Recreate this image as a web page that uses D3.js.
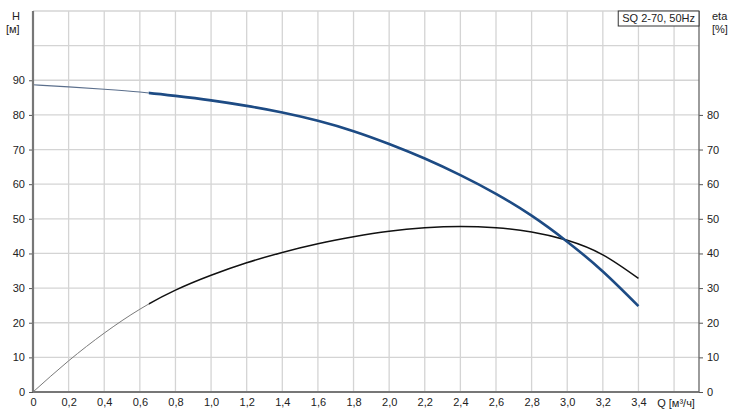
<!DOCTYPE html>
<html>
<head>
<meta charset="utf-8">
<script src="https://cdn.jsdelivr.net/npm/d3@7"></script>
<style>
  body { margin: 0; background: #fff; }
  text { font-family: "Liberation Sans", Arial, sans-serif; font-size: 11px; fill: #222; }
</style>
</head>
<body>
<div id="chart"></div>
<script>
// flow Q [m3/h]
var flow = [0, 0.2, 0.4, 0.6, 0.8, 1.0, 1.2, 1.4, 1.6, 1.8, 2.0, 2.2, 2.4, 2.6, 2.8, 3.0, 3.2, 3.4];
// head H [m]
var head = [88.7, 88.1, 87.4, 86.6, 85.5, 84.2, 82.6, 80.7, 78.3, 75.3, 71.6, 67.4, 62.6, 57.2, 50.9, 43.4, 34.8, 24.8];
// efficiency eta [%]
var eta = [0, 9.0, 17.0, 23.9, 29.4, 33.7, 37.3, 40.3, 42.8, 44.8, 46.4, 47.4, 47.8, 47.4, 46.2, 43.8, 39.6, 32.8];

var xTicks = [0, 0.2, 0.4, 0.6, 0.8, 1.0, 1.2, 1.4, 1.6, 1.8, 2.0, 2.2, 2.4, 2.6, 2.8, 3.0, 3.2, 3.4];
var xGrid = [0.2, 0.4, 0.6, 0.8, 1.0, 1.2, 1.4, 1.6, 1.8, 2.0, 2.2, 2.4, 2.6, 2.8, 3.0, 3.2, 3.4, 3.6];
var hTicks = [0, 10, 20, 30, 40, 50, 60, 70, 80, 90];
var etaTicks = [0, 10, 20, 30, 40, 50, 60, 70, 80];
var yGrid = [10, 20, 30, 40, 50, 60, 70, 80, 90, 100, 110];
var opStart = 0.65; // start of the bold (duty) range
var title = "SQ 2-70, 50Hz";

var W = 733, H = 410;
var margin = {top: 11, right: 34, bottom: 18, left: 33},
    width = W - margin.left - margin.right,
    height = H - margin.top - margin.bottom;

var x = d3.scaleLinear().domain([0, 3.74]).range([0, width]);
var y = d3.scaleLinear().domain([0, 110]).range([height, 0]);

var svg = d3.select("#chart").append("svg")
    .attr("width", W).attr("height", H)
  .append("g")
    .attr("transform", "translate(" + margin.left + "," + margin.top + ")");

// grid
svg.append("g").selectAll("line").data(xGrid).enter().append("line")
    .attr("x1", d => x(d)).attr("x2", d => x(d))
    .attr("y1", 0).attr("y2", height)
    .style("stroke", "#d4d4d4").style("stroke-width", 1.3);
svg.append("g").selectAll("line").data(yGrid).enter().append("line")
    .attr("x1", 0).attr("x2", width)
    .attr("y1", d => y(d)).attr("y2", d => y(d))
    .style("stroke", "#d4d4d4").style("stroke-width", 1.3);

// clip areas for thin / bold parts
var defs = svg.append("defs");
defs.append("clipPath").attr("id", "thin").append("rect")
    .attr("x", -2).attr("y", -5).attr("width", x(opStart) + 2).attr("height", height + 10);
defs.append("clipPath").attr("id", "bold").append("rect")
    .attr("x", x(opStart)).attr("y", -5).attr("width", width).attr("height", height + 10);

var etaData = flow.map((q, i) => [q, eta[i]]);
var headData = flow.map((q, i) => [q, head[i]]);
var line = d3.line().x(d => x(d[0])).y(d => y(d[1])).curve(d3.curveNatural);

svg.append("path").datum(etaData).attr("d", line).attr("clip-path", "url(#thin)")
    .style("fill", "none").style("stroke", "#7a7a7a").style("stroke-width", 1);
svg.append("path").datum(etaData).attr("d", line).attr("clip-path", "url(#bold)")
    .style("fill", "none").style("stroke", "#111").style("stroke-width", 1.5);

svg.append("path").datum(headData).attr("d", line).attr("clip-path", "url(#thin)")
    .style("fill", "none").style("stroke", "#5b6f8c").style("stroke-width", 1.1);
svg.append("path").datum(headData).attr("d", line).attr("clip-path", "url(#bold)")
    .style("fill", "none").style("stroke", "#1d4b84").style("stroke-width", 2.6);

// axes
var leftAxis = d3.axisLeft(y).tickValues(hTicks).tickSize(4).tickPadding(4).tickFormat(d3.format("d"));
var rightAxis = d3.axisRight(y).tickValues(etaTicks).tickSize(4).tickPadding(4).tickFormat(d3.format("d"));
var bottomAxis = d3.axisBottom(x).tickValues(xTicks).tickSize(0).tickPadding(6)
    .tickFormat(d => d === 0 ? "0" : d3.format(".1f")(d).replace(".", ","));

var gl = svg.append("g").call(leftAxis);
var gr = svg.append("g").attr("transform", "translate(" + width + ",0)").call(rightAxis);
var gb = svg.append("g").attr("transform", "translate(0," + height + ")").call(bottomAxis);

[gl, gr, gb].forEach(function(g) {
    g.select(".domain").remove();
    g.selectAll("line").style("stroke", "#555");
    g.selectAll("text").style("font-family", "'Liberation Sans', Arial, sans-serif")
        .style("font-size", "11px").style("fill", "#222");
});

// axis frame lines
svg.append("line").attr("x1", 0).attr("x2", 0).attr("y1", 0).attr("y2", height)
    .style("stroke", "#777").style("stroke-width", 2.2);
svg.append("line").attr("x1", 0).attr("x2", width).attr("y1", height).attr("y2", height)
    .style("stroke", "#777").style("stroke-width", 2.2);
svg.append("line").attr("x1", width).attr("x2", width).attr("y1", 0).attr("y2", height)
    .style("stroke", "#666").style("stroke-width", 1.3);

// axis titles
svg.append("text").attr("x", -21).attr("y", 9).text("H");
svg.append("text").attr("x", -27).attr("y", 22).text("[м]");
svg.append("text").attr("x", width + 13).attr("y", 9).text("eta");
svg.append("text").attr("x", width + 13).attr("y", 22).text("[%]");
svg.append("text").attr("x", x(3.6) + 2).attr("y", height + 15).style("text-anchor", "middle").text("Q [м³/ч]");

// title box
var tb = svg.append("g");
var tt = tb.append("text").attr("x", width - 4).attr("y", 11).style("text-anchor", "end").text(title);
var bb = tt.node().getBBox();
tb.insert("rect", "text").attr("x", bb.x - 4).attr("y", 0).attr("width", width - bb.x + 4).attr("height", 15)
    .style("fill", "#fff").style("stroke", "#333").style("stroke-width", 1);
</script>
</body>
</html>
